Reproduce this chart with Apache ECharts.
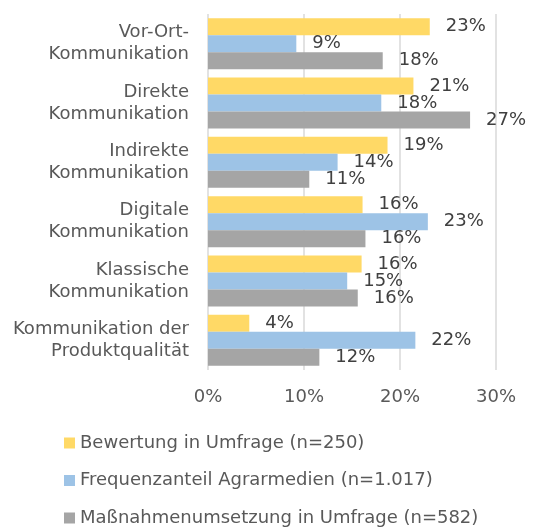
<!DOCTYPE html>
<html><head><meta charset="utf-8">
<script src="https://cdn.jsdelivr.net/npm/echarts@6/dist/echarts.min.js"></script>
<style>html,body{margin:0;padding:0;background:#fff}#c{width:537px;height:529px}</style>
</head><body><div id="c"></div>
<script>
const categories = ["Vor-Ort-\nKommunikation","Direkte\nKommunikation","Indirekte\nKommunikation","Digitale\nKommunikation","Klassische\nKommunikation","Kommunikation der\nProduktqualität"];
const seriesNames = ["Bewertung in Umfrage (n=250)","Frequenzanteil Agrarmedien (n=1.017)","Maßnahmenumsetzung in Umfrage (n=582)"];
const bewertung = [23.1, 21.4, 18.7, 16.1, 16.0, 4.3];
const frequenz = [9.2, 18.05, 13.5, 22.9, 14.5, 21.6];
const massnahmen = [18.2, 27.3, 10.55, 16.4, 15.6, 11.6];
const xTicks = [0, 10, 20, 30];
const colors = ["#FFD966","#9DC3E6","#A5A5A5"];
const font = "DejaVu Sans";
const txt = "#595959";
const chart = echarts.init(document.getElementById('c'));
const mk = (name, data, color) => ({
  name, type: 'bar', data, barGap: '0%', barCategoryGap: '14%',
  itemStyle: {color},
  label: {show: true, position: 'right', distance: 16, color: '#404040', fontFamily: font, fontSize: 18,
    formatter: p => Math.round(p.value) + '%'}
});
const legendTops = [434, 471.5, 509];
chart.setOption({
  animation: false,
  textStyle: {fontFamily: font},
  grid: {left: 208, right: 41, top: 14, bottom: 159, containLabel: false},
  xAxis: {type: 'value', min: xTicks[0], max: xTicks[xTicks.length-1], interval: 10,
    axisLine: {show: false}, axisTick: {show: false},
    splitLine: {lineStyle: {color: '#d9d9d9', width: 1.5}},
    axisLabel: {formatter: v => v + '%', color: txt, fontFamily: font, fontSize: 18, margin: 18}},
  yAxis: {type: 'category', data: categories, inverse: true,
    axisLine: {show: false}, axisTick: {show: false},
    axisLabel: {color: txt, fontFamily: font, fontSize: 18, lineHeight: 22, margin: 19, align: 'right'}},
  legend: seriesNames.map((n, i) => ({
    left: 64, top: legendTops[i], itemWidth: 11, itemHeight: 11, padding: 0,
    icon: 'rect', textStyle: {color: txt, fontFamily: font, fontSize: 18},
    data: [n]})),
  series: [mk(seriesNames[0], bewertung, colors[0]), mk(seriesNames[1], frequenz, colors[1]), mk(seriesNames[2], massnahmen, colors[2])]
});
</script></body></html>
